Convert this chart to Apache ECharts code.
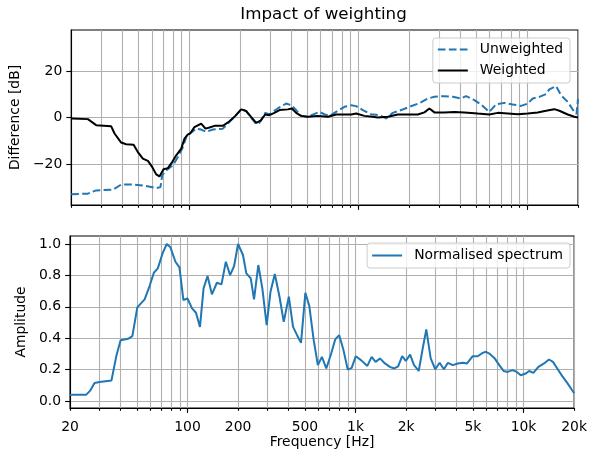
<!DOCTYPE html>
<html>
<head>
<meta charset="utf-8">
<script src="https://cdn.jsdelivr.net/npm/echarts@6/dist/echarts.min.js"></script>
<style>
html, body { margin: 0; padding: 0; background: #fff; }
#chart { width: 590px; height: 455px; }
</style>
</head>
<body>
<div id="chart"></div>
<script>
// weighted / unweighted difference curves (Hz, dB)
const wFreq = [20, 25.1, 28.1, 34.5, 36.1, 39.5, 42.3, 46.8, 49.6, 53.1, 56.9, 60.3, 63.7, 66.6, 70.4,
  74.7, 79.2, 83.7, 89.6, 93.7, 98.1, 101.2, 107.3, 117.6, 124.7, 131.7, 141, 158, 173, 185,
  203, 217, 232, 249, 266, 281, 298, 319, 342, 383, 405, 429, 459, 503, 577,
  661, 740, 829, 908, 972, 1088, 1220, 1306, 1497, 1716, 2056, 2253, 2465, 2638, 2825,
  3236, 3710, 4250, 5103, 5975, 6699, 7680, 8790, 10080, 11550, 12935, 14480, 15510, 17390, 19020, 20000];
const wDb = [-0.4, -0.7, -3.3, -3.8, -6.9, -10.8, -11.5, -11.7, -14.9, -17.7, -18.7, -21.3, -24.5, -25.4, -22.3,
  -21.8, -19.2, -16.3, -13.4, -9.1, -7.3, -6.9, -4.1, -2.6, -4.8, -4.3, -3.6, -3.6, -1.6, 0.3,
  3.5, 2.8, 0.3, -2.3, -1.2, 1.3, 1.0, 2.0, 3.2, 3.5, 3.9, 2.0, 0.7, 0.3, 0.7,
  0.3, 1.3, 1.3, 1.3, 1.7, 0.7, 0.3, 0, 0.3, 1.3, 1.3, 1.3, 2.2, 3.9, 2.2,
  2.2, 2.4, 2.2, 1.7, 1.3, 2.0, 1.7, 1.4, 1.7, 2.2, 2.9, 3.6, 2.9, 1.3, 0.3, 0];

const uFreq = [20, 25.1, 28.1, 35.3, 39.5, 46.4, 55.6, 63.7, 67.5, 69.1, 73, 80, 85.6, 91.7, 96.8,
  104, 109.9, 117.6, 125.9, 137.9, 158, 173, 185, 203, 217, 232, 249, 260, 281, 298,
  334, 374, 401, 429, 459, 503, 589, 631, 675, 757, 829, 908, 972, 1065, 1192,
  1335, 1463, 1602, 1794, 2009, 2302, 2581, 2825, 3236, 3630, 4062, 4349, 4871, 5337, 5975,
  6546, 7328, 8219, 9204, 10080, 10790, 11810, 12935, 13530, 14830, 15870, 17390, 19020, 19600, 20000];
const uDb = [-33.1, -32.8, -31.4, -31.1, -28.9, -28.9, -29.5, -30.4, -30, -24.9, -22.8, -20.6, -17, -12.7, -7.6,
  -6.2, -4.8, -5.2, -6.2, -5.2, -4.8, -1.9, 0.3, 3.5, 2.8, 0, -2.9, -2.3, 1.9, 1.4,
  3.9, 6.0, 5.3, 3.2, 0.7, 0.3, 2.4, 1.4, 0.7, 2.9, 4.6, 5.3, 4.9, 3.2, 1.4,
  1.0, -0.4, 2.0, 3.2, 4.6, 6.2, 8.2, 8.9, 9.2, 8.9, 8.2, 9.2, 7.5, 5.6, 2.4,
  5.7, 6.3, 5.6, 5.0, 6.0, 8.2, 8.9, 10.1, 12.1, 13.5, 9.6, 6.7, 2.4, 1.5, 8.0];

// normalised spectrum (Hz, amplitude)
const specFreq = [20, 25, 26.3, 28, 30, 35.3, 37.8, 40, 44.3, 47, 50.3, 55.6, 59.5, 63.1, 66.6,
  71.3, 75.3, 79.2, 84.8, 89.6, 94.6, 100, 106.5, 112.4, 118.7, 124.7, 131.7, 139.8, 149.7, 159.4,
  169.2, 179.4, 189.5, 200, 214, 224, 238, 249, 264, 279, 296, 312, 331, 353, 374,
  401, 425, 449, 474, 503, 531, 564, 597, 631, 670, 717, 757, 800, 848, 899,
  949, 1003, 1079, 1176, 1247, 1317, 1398, 1497, 1602, 1699, 1794, 1895, 1993, 2113, 2230,
  2378, 2522, 2638, 2802, 2983, 3166, 3357, 3546, 3795, 4062, 4349, 4611, 4985, 5337, 5712,
  5975, 6258, 6699, 7172, 7605, 8030, 8596, 9118, 9626, 10305, 10790, 11443, 12250, 13240, 14170,
  14970, 15870, 16990, 18190, 19470, 20000];
const specAmp = [0.04, 0.04, 0.064, 0.115, 0.12, 0.13, 0.29, 0.387, 0.396, 0.413, 0.596, 0.647, 0.732, 0.817, 0.845,
  0.944, 1.0, 0.979, 0.887, 0.851, 0.643, 0.653, 0.59, 0.562, 0.472, 0.717, 0.796, 0.679, 0.753, 0.743,
  0.887, 0.802, 0.86, 1.0, 0.93, 0.813, 0.781, 0.647, 0.866, 0.717, 0.483, 0.696, 0.809, 0.664, 0.504,
  0.664, 0.472, 0.419, 0.37, 0.689, 0.604, 0.387, 0.228, 0.281, 0.207, 0.302, 0.392, 0.419, 0.324, 0.2,
  0.211, 0.285, 0.26, 0.223, 0.281, 0.249, 0.271, 0.239, 0.217, 0.207, 0.221, 0.285, 0.255, 0.295, 0.228,
  0.191, 0.345, 0.456, 0.271, 0.202, 0.243, 0.202, 0.243, 0.228, 0.239, 0.243, 0.239, 0.285, 0.285, 0.306,
  0.313, 0.302, 0.274, 0.228, 0.191, 0.185, 0.196, 0.185, 0.164, 0.175, 0.191, 0.179, 0.217, 0.239, 0.264,
  0.249, 0.207, 0.158, 0.115, 0.068, 0.05];

// ticks
const xLabelTicks = [20, 100, 200, 500, 1000, 2000, 5000, 10000, 20000];
const xMajorTicks = [100, 1000, 10000];
const xGridTicks = [20, 30, 40, 50, 60, 70, 80, 90, 100, 200, 300, 400, 500, 600, 700, 800, 900,
  1000, 2000, 3000, 4000, 5000, 6000, 7000, 8000, 9000, 10000, 20000];
const dbTicks = [-20, 0, 20];
const ampTicks = [0, 0.2, 0.4, 0.6, 0.8, 1.0];

const font = 'DejaVu Sans';
const blue = '#1f77b4';
const lg = f => Math.log10(f);
const xMin = lg(20), xMax = lg(20000);
function pairs(fs, vs) { return fs.map((f, i) => [lg(f), vs[i]]); }
function fmtHz(v) {
  const f = Math.round(Math.pow(10, v));
  return f >= 1000 ? (f / 1000) + 'k' : String(f);
}
const txt = { fontFamily: font, fontSize: 13.9, color: '#000' };
const gridLine = { show: true, lineStyle: { color: '#b0b0b0', width: 1.1 } };
const frame = { show: true, onZero: false, lineStyle: { color: '#000', width: 1.1 } };

function mainX(gi, withLabels) {
  return {
    type: 'value', gridIndex: gi, min: xMin, max: xMax, position: 'bottom',
    axisLine: frame,
    axisTick: { show: true, length: 2.8, customValues: xGridTicks.map(lg), lineStyle: { color: '#000', width: 1.1 } },
    axisLabel: Object.assign({ show: withLabels, margin: 12, customValues: xLabelTicks.map(lg), formatter: fmtHz }, txt),
    splitLine: gridLine,
    name: withLabels ? 'Frequency [Hz]' : '', nameLocation: 'middle', nameGap: 26, nameTextStyle: txt
  };
}
function majorX(gi) {
  return {
    type: 'value', gridIndex: gi, min: xMin, max: xMax, position: 'bottom',
    axisLine: { show: false, onZero: false },
    axisTick: { show: true, length: 4.9, customValues: xMajorTicks.map(lg), lineStyle: { color: '#000', width: 1.1 } },
    axisLabel: { show: false }, splitLine: { show: false }
  };
}
function legendBox(top, names, pad) {
  return {
    orient: 'vertical', right: 20, top: top, data: names,
    itemWidth: 30, itemHeight: 12, itemGap: 6, padding: pad,
    itemStyle: { opacity: 0 },
    backgroundColor: 'rgba(255,255,255,0.8)', borderColor: '#cccccc', borderWidth: 1, borderRadius: 3,
    textStyle: Object.assign({ padding: [0, 0, 0, 7], lineHeight: 15 }, txt)
  };
}

const chart = echarts.init(document.getElementById('chart'), null, { renderer: 'canvas' });
chart.setOption({
  animation: false,
  backgroundColor: '#fff',
  title: {
    text: 'Impact of weighting', left: 323.5, top: 6, textAlign: 'center', padding: 0,
    textStyle: { fontFamily: font, fontSize: 16.7, fontWeight: 'normal', color: '#000' }
  },
  grid: [
    { left: 70, right: 12, top: 30, height: 175, show: true, borderColor: '#000', borderWidth: 1.1, backgroundColor: 'transparent' },
    { left: 70, right: 12, top: 236, height: 172, show: true, borderColor: '#000', borderWidth: 1.1, backgroundColor: 'transparent' }
  ],
  legend: [
    legendBox(38, ['Unweighted', 'Weighted'], [4, 7, 5, 4]),
    legendBox(243, ['Normalised spectrum'], [5, 7, 5, 4])
  ],
  xAxis: [mainX(0, false), majorX(0), mainX(1, true), majorX(1)],
  yAxis: [
    {
      type: 'value', gridIndex: 0, min: -37.7, max: 37.7,
      name: 'Difference [dB]', nameLocation: 'middle', nameGap: 42, nameRotate: 90, nameTextStyle: txt,
      axisLine: frame,
      axisTick: { show: true, length: 4.9, customValues: dbTicks, lineStyle: { color: '#000', width: 1.1 } },
      axisLabel: Object.assign({ margin: 9, customValues: dbTicks,
        formatter: v => v < 0 ? '\u2212' + Math.abs(v) : String(v) }, txt),
      splitLine: gridLine
    },
    {
      type: 'value', gridIndex: 1, min: -0.045, max: 1.051,
      name: 'Amplitude', nameLocation: 'middle', nameGap: 35, nameRotate: 90, nameTextStyle: txt,
      axisLine: frame,
      axisTick: { show: true, length: 4.9, customValues: ampTicks, lineStyle: { color: '#000', width: 1.1 } },
      axisLabel: Object.assign({ margin: 9, customValues: ampTicks, formatter: v => v.toFixed(1) }, txt),
      splitLine: gridLine
    }
  ],
  series: [
    {
      name: 'Unweighted', type: 'line', xAxisIndex: 0, yAxisIndex: 0, symbol: 'none',
      data: pairs(uFreq, uDb), color: blue,
      lineStyle: { color: blue, width: 2, type: [7.7, 3.3] }
    },
    {
      name: 'Weighted', type: 'line', xAxisIndex: 0, yAxisIndex: 0, symbol: 'none',
      data: pairs(wFreq, wDb), color: '#000',
      lineStyle: { color: '#000', width: 2 }
    },
    {
      name: 'Normalised spectrum', type: 'line', xAxisIndex: 2, yAxisIndex: 1, symbol: 'none',
      data: pairs(specFreq, specAmp), color: blue,
      lineStyle: { color: blue, width: 2 }
    }
  ]
});
</script>
</body>
</html>
